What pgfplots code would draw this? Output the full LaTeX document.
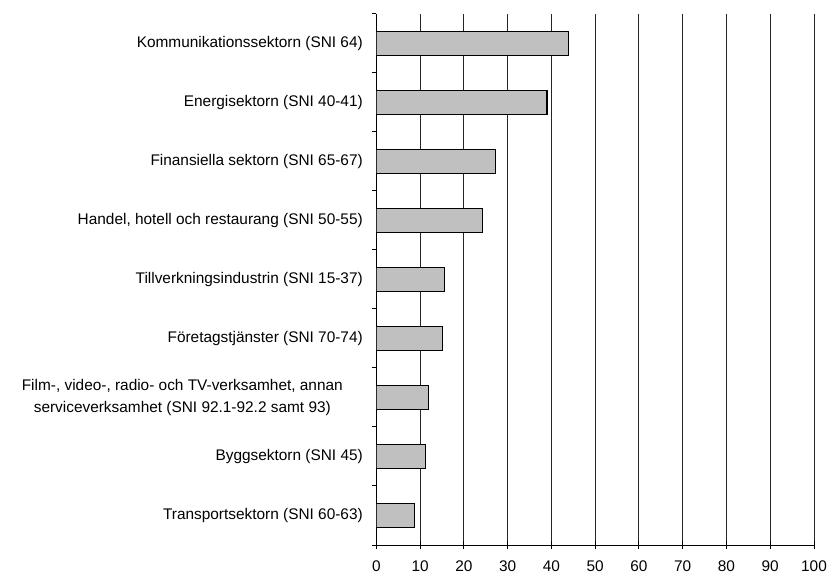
\documentclass[border=0pt]{standalone}
\usepackage{pgfplots}
\pgfplotsset{compat=1.18}
\usepackage{fontspec}
\setmainfont{Liberation Sans}
\begin{document}
\begin{tikzpicture}
\begin{axis}[
  at={(376.3bp,29bp)}, anchor=south west,
  scale only axis, width=437.7bp, height=531bp,
  xbar, bar width=23.3bp,
  xmin=0, xmax=100, ymin=-0.5, ymax=8.5,
  axis x line*=bottom, axis y line*=left,
  axis line style={black, line width=1bp},
  xtick={0,10,...,100},
  xmajorgrids, grid style={black!85, line width=0.9bp},
  ytick={0,...,8},
  minor ytick={-0.5,0.5,...,8.5},
  major y tick style={draw=none},
  minor y tick style={black, line width=1bp},
  major x tick style={black, line width=1bp},
  ytick align=outside, xtick align=center,
  major tick length=8bp, minor tick length=4.5bp,
  tick label style={font=\fontsize{15.4bp}{22bp}\selectfont},
  /pgf/number format/assume math mode=true,
  yticklabel style={anchor=east, xshift=-2bp},
  xticklabel style={yshift=-8bp},
  yticklabels={
    Transportsektorn (SNI 60-63),
    Byggsektorn (SNI 45),
    {\begin{tabular}{@{}c@{}}Film-, video-, radio- och TV-verksamhet, annan\\ serviceverksamhet (SNI 92.1-92.2 samt 93)\end{tabular}\rule{20bp}{0pt}},
    Företagstjänster (SNI 70-74),
    Tillverkningsindustrin (SNI 15-37),
    {Handel, hotell och restaurang (SNI 50-55)},
    Finansiella sektorn (SNI 65-67),
    Energisektorn (SNI 40-41),
    Kommunikationssektorn (SNI 64)
  },
]
\addplot[fill={rgb,255:red,192;green,192;blue,192}, draw=black, line width=1.1bp]
  coordinates {
    (8.8,0) (11.2,1) (11.9,2) (15.2,3) (15.5,4)
    (24.2,5) (27.2,6) (39.0,7) (44.0,8)
  };
\end{axis}
\pgfresetboundingbox
\path (0,0) rectangle (827bp,574bp);
\end{tikzpicture}
\end{document}
